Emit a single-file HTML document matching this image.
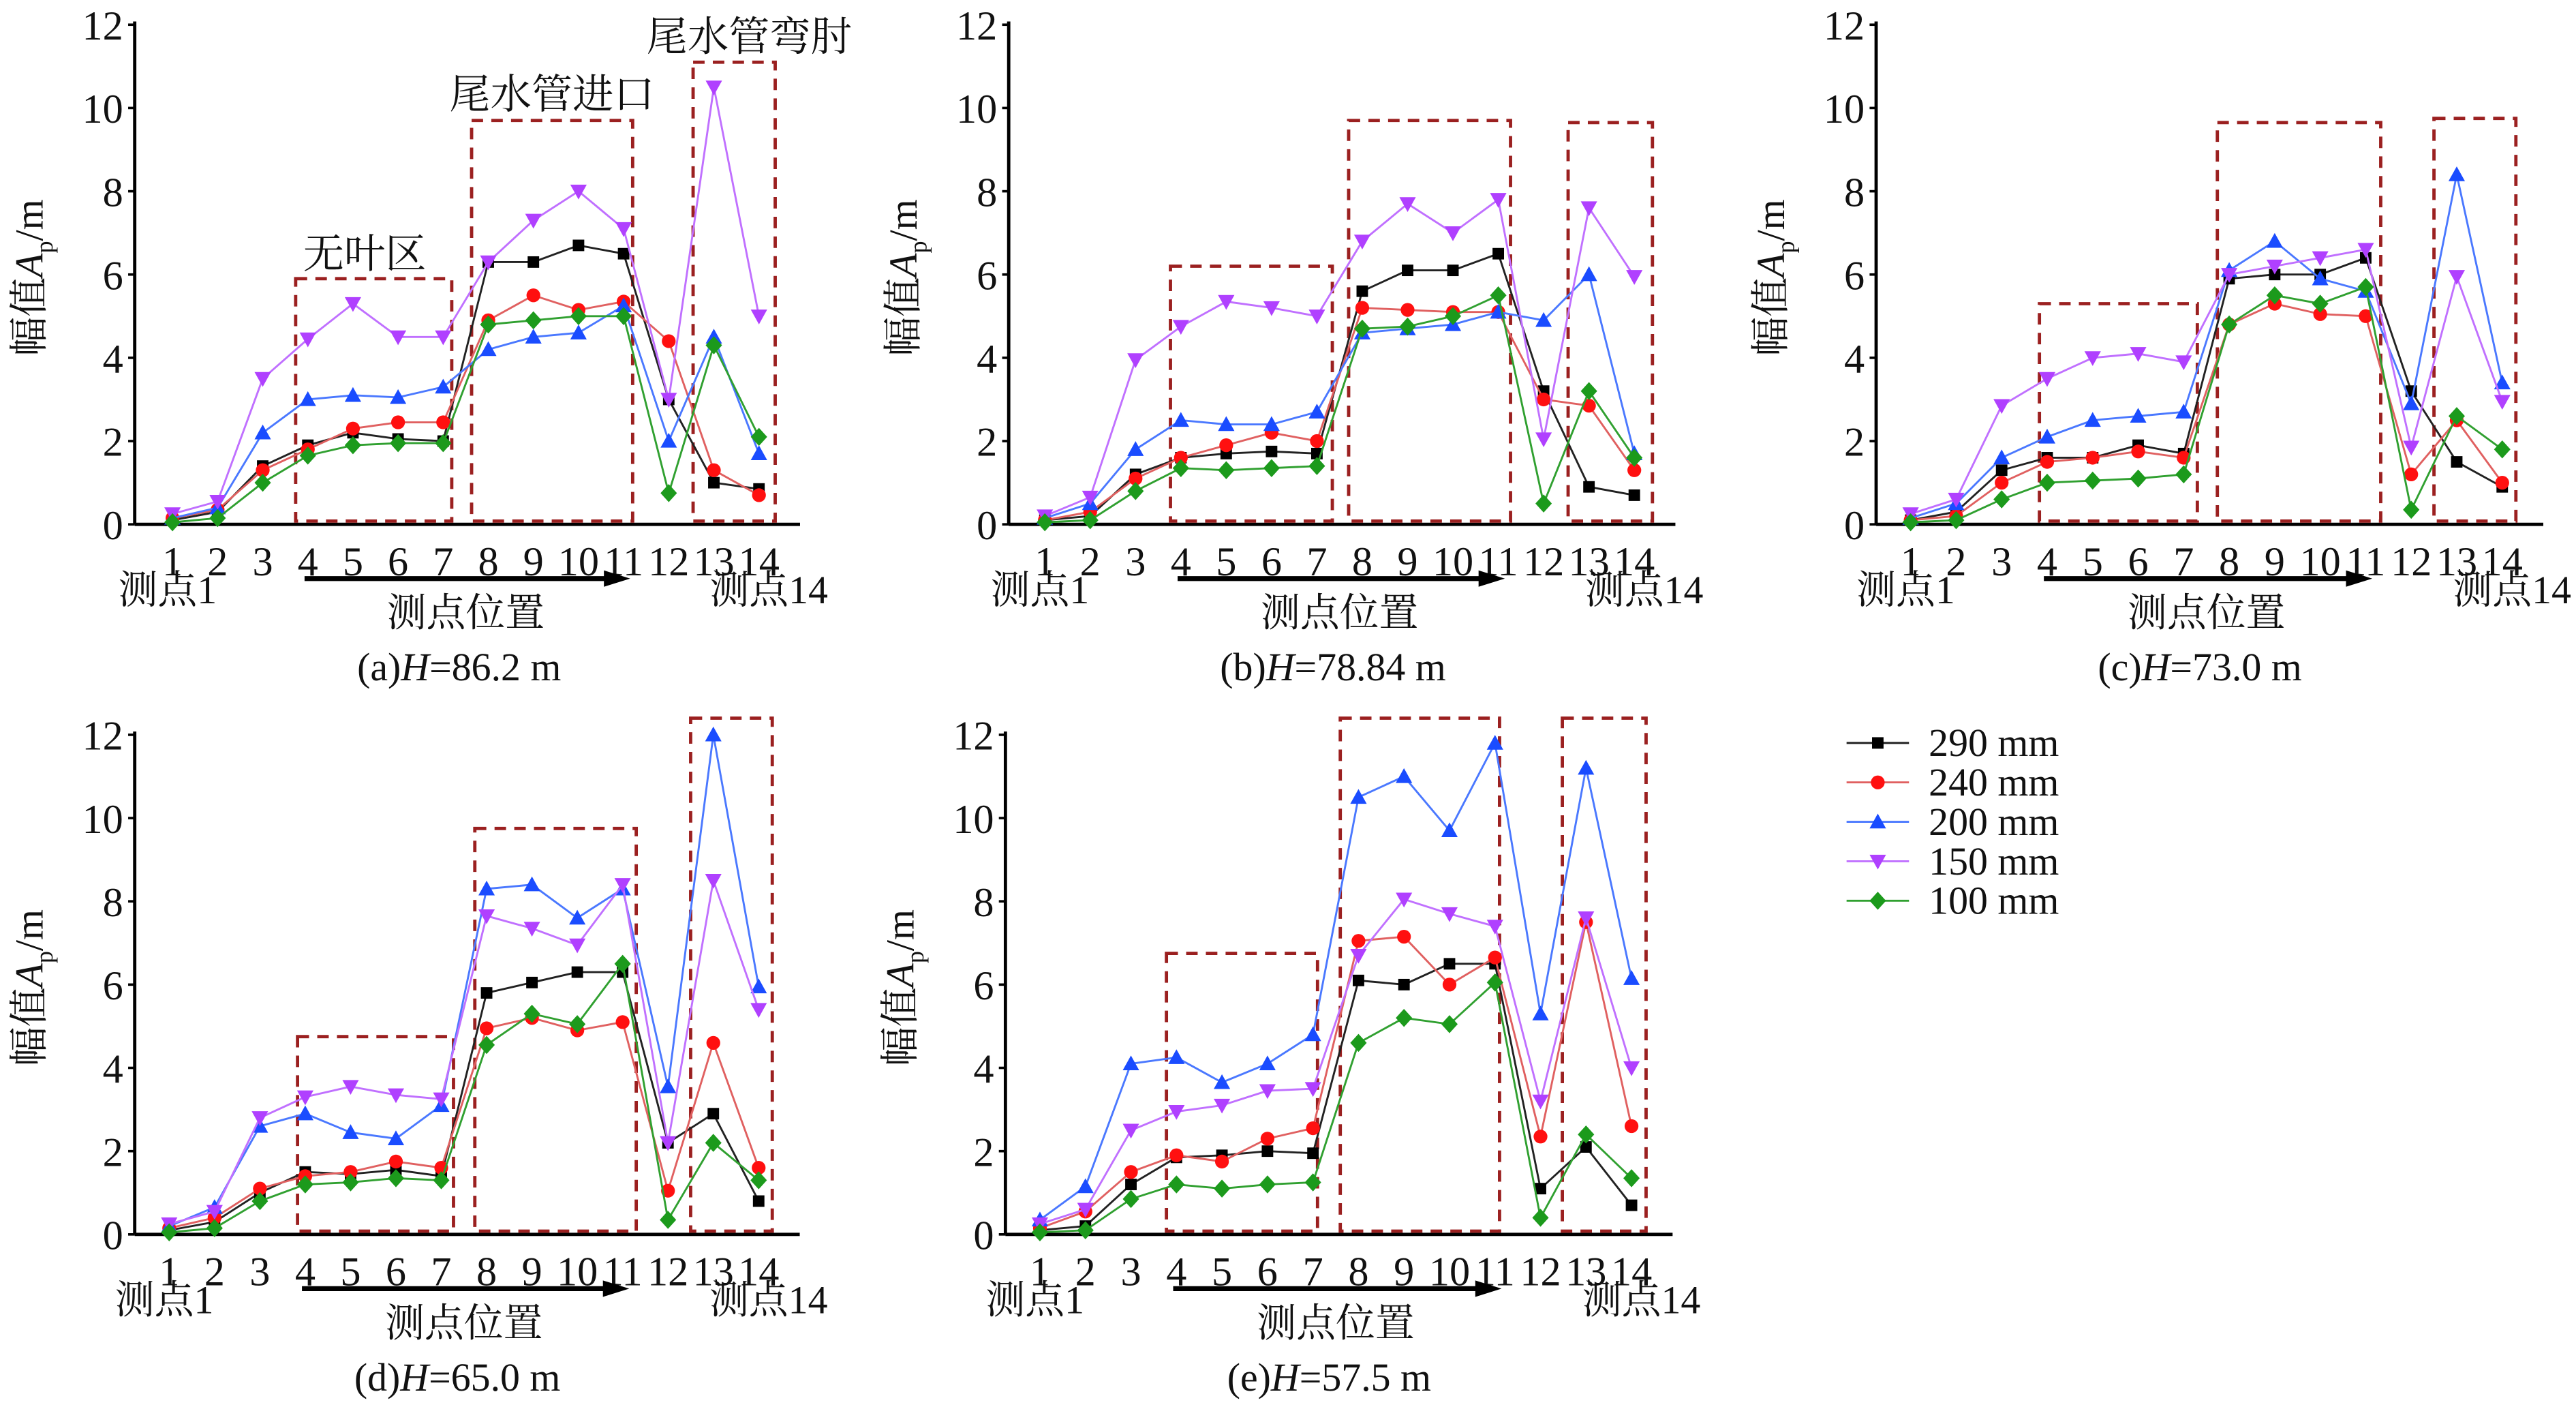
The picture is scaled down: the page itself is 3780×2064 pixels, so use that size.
<!DOCTYPE html>
<html><head><meta charset="utf-8"><style>
html,body{margin:0;padding:0;background:#fff;}
svg{display:block;}
svg text{font-family:"Liberation Serif","Noto Serif CJK SC","Noto Sans CJK SC",serif;fill:#111;}
</style></head><body>
<svg id="c" width="3780" height="2064" viewBox="0 0 1568 856" preserveAspectRatio="none" xmlns="http://www.w3.org/2000/svg"></svg>
<script>
const xCats=[1,2,3,4,5,6,7,8,9,10,11,12,13,14];
const yTicks=[0,2,4,6,8,10,12];
const seriesNames=["290 mm","240 mm","200 mm","150 mm","100 mm"];
const captions=["(a)","(b)","(c)","(d)","(e)"];
const heads=["86.2","78.84","73.0","65.0","57.5"];
const a290=[0.1,0.3,1.4,1.9,2.2,2.05,2.0,6.3,6.3,6.7,6.5,3.0,1.0,0.85];
const a240=[0.15,0.35,1.3,1.8,2.3,2.45,2.45,4.9,5.5,5.15,5.35,4.4,1.3,0.7];
const a200=[0.15,0.4,2.2,3.0,3.1,3.05,3.3,4.2,4.5,4.6,5.25,2.0,4.5,1.7];
const a150=[0.25,0.55,3.5,4.45,5.3,4.5,4.5,6.3,7.3,8.0,7.1,3.0,10.5,5.0];
const a100=[0.05,0.15,1.0,1.65,1.9,1.95,1.95,4.8,4.9,5.0,5.0,0.75,4.3,2.1];
const b290=[0.1,0.2,1.2,1.6,1.7,1.75,1.7,5.6,6.1,6.1,6.5,3.2,0.9,0.7];
const b240=[0.1,0.3,1.1,1.6,1.9,2.2,2.0,5.2,5.15,5.1,5.1,3.0,2.85,1.3];
const b200=[0.15,0.5,1.8,2.5,2.4,2.4,2.7,4.6,4.7,4.8,5.1,4.9,6.0,1.7];
const b150=[0.2,0.65,3.95,4.75,5.35,5.2,5.0,6.8,7.7,7.0,7.8,2.05,7.6,5.95];
const b100=[0.05,0.1,0.8,1.35,1.3,1.35,1.4,4.7,4.75,5.0,5.5,0.5,3.2,1.6];
const c290=[0.1,0.3,1.3,1.6,1.6,1.9,1.7,5.9,6.0,6.0,6.4,3.2,1.5,0.9];
const c240=[0.1,0.2,1.0,1.5,1.6,1.75,1.6,4.8,5.3,5.05,5.0,1.2,2.5,1.0];
const c200=[0.15,0.5,1.6,2.1,2.5,2.6,2.7,6.1,6.8,5.9,5.6,2.9,8.4,3.4];
const c150=[0.25,0.6,2.85,3.5,4.0,4.1,3.9,6.0,6.2,6.4,6.6,1.85,5.95,2.95];
const c100=[0.05,0.1,0.6,1.0,1.05,1.1,1.2,4.8,5.5,5.3,5.7,0.35,2.6,1.8];
const d290=[0.1,0.3,1.0,1.5,1.45,1.55,1.4,5.8,6.05,6.3,6.3,2.2,2.9,0.8];
const d240=[0.15,0.4,1.1,1.4,1.5,1.75,1.6,4.95,5.2,4.9,5.1,1.05,4.6,1.6];
const d200=[0.2,0.65,2.6,2.9,2.45,2.3,3.1,8.3,8.4,7.6,8.3,3.55,12.0,5.95];
const d150=[0.25,0.55,2.8,3.3,3.55,3.35,3.25,7.65,7.35,6.95,8.4,2.2,8.5,5.4];
const d100=[0.05,0.15,0.8,1.2,1.25,1.35,1.3,4.55,5.3,5.05,6.5,0.35,2.2,1.3];
const e290=[0.1,0.2,1.2,1.85,1.9,2.0,1.95,6.1,6.0,6.5,6.5,1.1,2.1,0.7];
const e240=[0.15,0.55,1.5,1.9,1.75,2.3,2.55,7.05,7.15,6.0,6.65,2.35,7.5,2.6];
const e200=[0.35,1.15,4.1,4.25,3.65,4.1,4.8,10.5,11.0,9.7,11.8,5.3,11.2,6.15];
const e150=[0.25,0.6,2.5,2.95,3.1,3.45,3.5,6.7,8.05,7.7,7.4,3.2,7.6,4.0];
const e100=[0.05,0.1,0.85,1.2,1.1,1.2,1.25,4.6,5.2,5.05,6.05,0.4,2.4,1.35];
const allData=[[a290,a240,a200,a150,a100],[b290,b240,b200,b150,b100],[c290,c240,c200,c150,c100],[d290,d240,d200,d150,d100],[e290,e240,e200,e150,e100]];
const boxesA=[[3.73,7.19,5.9],[7.63,11.2,9.7],[12.54,14.36,11.1]];
const boxesB=[[3.77,7.34,6.2],[7.7,11.27,9.7],[12.54,14.4,9.65]];
const boxesC=[[3.83,7.3,5.3],[7.74,11.33,9.65],[12.5,14.3,9.75]];
const boxesD=[[3.83,7.27,4.75],[7.74,11.3,9.75],[12.5,14.3,12.4]];
const boxesE=[[3.78,7.1,6.75],[7.6,11.1,12.4],[12.48,14.32,12.4]];
const allBoxes=[boxesA,boxesB,boxesC,boxesD,boxesE];

const colors=["#000","#ff1010","#1a4cff","#b040ff","#1c9a1c"];
const lineColors=["#222","#e06060","#4a78ff","#c070ff","#30a030"];
const shapes=["sq","ci","tu","td","di"];
const layout=[{ax:82,x1:105,dx:27.46,y0:319},{ax:614,x1:636,dx:27.6,y0:319},{ax:1142,x1:1163,dx:27.7,y0:319},{ax:82,x1:103,dx:27.6,y0:751},{ax:612,x1:633,dx:27.7,y0:751}];
const S=document.getElementById('c');
const NS="http://www.w3.org/2000/svg";
const FF='"Liberation Serif","Noto Serif CJK SC","Noto Sans CJK SC",serif';
function mk(t,at,txt){const e=document.createElementNS(NS,t);for(const k in at)e.setAttribute(k,at[k]);if(t==='text')e.setAttribute('font-family',FF);if(txt!==undefined)e.textContent=txt;S.appendChild(e);return e;}
function marker(s,x,y,c){
  let e;
  if(s==="sq")e=mk('rect',{x:x-3.5,y:y-3.5,width:7,height:7,fill:c});
  else if(s==="ci")e=mk('circle',{cx:x,cy:y,r:4.2,fill:c});
  else if(s==="tu")e=mk('polygon',{points:`${x},${y-5} ${x-5},${y+4} ${x+5},${y+4}`,fill:c});
  else if(s==="td")e=mk('polygon',{points:`${x},${y+5} ${x-5},${y-4} ${x+5},${y-4}`,fill:c});
  else e=mk('polygon',{points:`${x},${y-5.5} ${x+5},${y} ${x},${y+5.5} ${x-5},${y}`,fill:c});
  return e;
}
const ppu=25.33;
layout.forEach((L,p)=>{
  const X=v=>L.x1+(v-1)*L.dx, Y=v=>L.y0-v*ppu;
  const xr=L.x1+13*L.dx+25;
  let e=mk('line',{x1:L.ax,y1:L.y0,x2:L.ax,y2:Y(12)-2,stroke:'#000','stroke-width':2});
  
  
  e=mk('line',{x1:L.ax,y1:L.y0,x2:xr,y2:L.y0,stroke:'#000','stroke-width':2});
  
  
  yTicks.forEach(t=>{
    mk('line',{x1:L.ax-4,y1:Y(t),x2:L.ax,y2:Y(t),stroke:'#000','stroke-width':1.5});
    e=mk('text',{x:L.ax-7,y:Y(t)+9,'text-anchor':'end','font-size':25},t);
    
    
  });
  xCats.forEach((c,i)=>{
    e=mk('text',{x:X(c),y:L.y0+31,'text-anchor':'middle','font-size':25},c);
    
    
  });
  e=mk('text',{x:0,y:0,'font-size':24,transform:`translate(${L.ax-56},${L.y0-150}) rotate(-90)`,'text-anchor':'middle'});
  e.innerHTML='幅值<tspan font-style="italic">A</tspan><tspan font-size="15" dy="6">p</tspan><tspan dy="-6">/m</tspan>';
  
  
  e=mk('text',{x:X(1)-3,y:L.y0+48,'text-anchor':'middle','font-size':24},'测点1');
  
  
  e=mk('text',{x:X(14)+6,y:L.y0+48,'text-anchor':'middle','font-size':24},'测点14');
  
  
  e=mk('line',{x1:X(4)-2,y1:L.y0+33,x2:X(11)-6,y2:L.y0+33,stroke:'#000','stroke-width':3});
  
  
  mk('polygon',{points:`${X(11)+4},${L.y0+33} ${X(11)-12},${L.y0+28} ${X(11)-12},${L.y0+38}`,fill:'#000'});
  e=mk('text',{x:(X(4)+X(11))/2,y:L.y0+62,'text-anchor':'middle','font-size':24},'测点位置');
  
  
  e=mk('text',{x:(X(4)+X(11))/2-4,y:L.y0+95,'text-anchor':'middle','font-size':24});
  e.innerHTML=captions[p]+'<tspan font-style="italic">H</tspan>='+heads[p]+' m';
  
  
  allBoxes[p].forEach(b=>{
    e=mk('rect',{x:X(b[0]),y:Y(b[2]),width:X(b[1])-X(b[0]),height:L.y0-2-Y(b[2]),fill:'none',stroke:'#9b2020','stroke-width':2,'stroke-dasharray':'7,5'});
    
    
  });
  allData[p].forEach((arr,s)=>{
    const pts=arr.map((v,i)=>X(xCats[i])+','+Y(v)).join(' ');
    e=mk('polyline',{points:pts,fill:'none',stroke:lineColors[s],'stroke-width':1.2});
    
    
    arr.forEach((v,i)=>{
      const m=marker(shapes[s],X(xCats[i]),Y(v),colors[s]);
      
      
    });
  });
  if(p===0){
    e=mk('text',{x:222,y:163,'text-anchor':'middle','font-size':25},'无叶区');
    
    
    e=mk('text',{x:336,y:66,'text-anchor':'middle','font-size':25},'尾水管进口');
    
    
    e=mk('text',{x:456,y:31,'text-anchor':'middle','font-size':25},'尾水管弯肘');
    
    
  }
});
seriesNames.forEach((n,s)=>{
  const y=452+s*24;
  let e=mk('line',{x1:1124,y1:y,x2:1162,y2:y,stroke:lineColors[s],'stroke-width':1.2});
  
  
  const m=marker(shapes[s],1143,y,colors[s]);
  
  
  e=mk('text',{x:1174,y:y+8,'font-size':24},n);
  
  
});
</script>
</body></html>
